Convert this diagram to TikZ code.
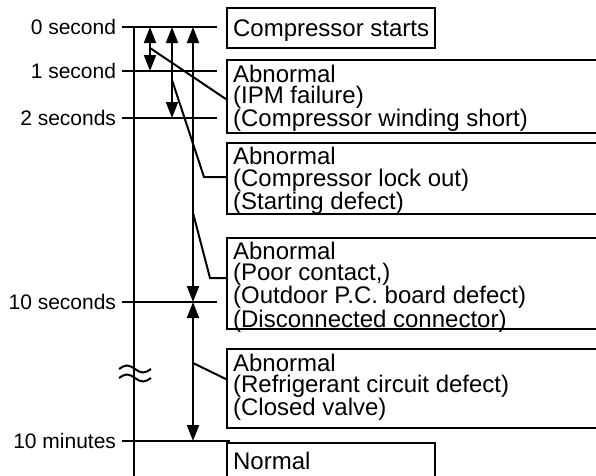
\documentclass[tikz,border=0pt]{standalone}
\usepackage{fontspec}
\setmainfont{Liberation Sans}
\usetikzlibrary{arrows.meta}
\newcommand{\boxlines}[4]{\parbox[c][#1][t]{#2}{\rule{0pt}{#3}#4}}
\begin{document}
\begin{tikzpicture}[x=1pt,y=-1pt,
  line width=2pt,
  tickline/.style={line width=2pt},
  dblarrow/.style={line width=2pt,{Triangle[length=16pt,width=12pt]}-{Triangle[length=16pt,width=12pt]}},
  lead/.style={line width=2pt},
  tlabel/.style={anchor=base east,inner sep=0pt,font=\fontsize{21}{21}\selectfont},
  abox/.style={draw,line width=2.2pt,anchor=north west,inner xsep=6pt,inner ysep=0pt,font=\fontsize{24}{21.5}\selectfont},
  brk/.style={line width=2pt}]
\useasboundingbox (0,0) rectangle (596,475);
\clip (0,0) rectangle (596,475);
\fill[white] (0,0) rectangle (596,475);

% time labels and tick lines
\node[tlabel] (l0) at (117,34.5) {0 second};
\node[tlabel] (l1) at (117,78.5) {1 second};
\node[tlabel] (l2) at (117,125.5) {2 seconds};
\node[tlabel] (l10s) at (117,309.5) {10 seconds};
\node[tlabel] (l10m) at (117,448) {10 minutes};
\draw[tickline] (122,27) -- (217,27);
\draw[tickline] (122,71) -- (217,71);
\draw[tickline] (122,118) -- (217,118);
\draw[tickline] (122,302) -- (217,302);
\draw[tickline] (122,441) -- (230,441);

% main axis
\draw[line width=2pt] (134,27) -- (134,480);

% break symbol
\draw[brk] (119,369) sin (127,365.5) cos (135,369) sin (143,372.5) cos (151,369);
\draw[brk] (119,378) sin (127,374.5) cos (135,378) sin (143,381.5) cos (151,378);

% arrows
\coordinate (a1s) at (150,27);  \coordinate (a1e) at (150,71);
\coordinate (a2s) at (172,27);  \coordinate (a2e) at (172,118);
\coordinate (a3s) at (193,27);  \coordinate (a3e) at (193,302);
\coordinate (a4s) at (193,302); \coordinate (a4e) at (193,441);
\draw[dblarrow] (a1s) -- (a1e);
\draw[dblarrow] (a2s) -- (a2e);
\draw[dblarrow] (a3s) -- (a3e);
\draw[dblarrow] (a4s) -- (a4e);

% boxes
\node[abox] (start) at (226,7) {\boxlines{40pt}{196pt}{28.5pt}{Compressor starts}};
\node[abox] (ipm) at (226,59) {\boxlines{73pt}{380pt}{22pt}{Abnormal\\(IPM failure)\\(Compressor winding short)}};
\node[abox] (lock) at (226,142) {\boxlines{71pt}{380pt}{21.5pt}{Abnormal\\(Compressor lock out)\\(Starting defect)}};
\node[abox] (poor) at (226,237) {\boxlines{91pt}{380pt}{21pt}{Abnormal\\(Poor contact,)\\(Outdoor P.C. board defect)\\(Disconnected connector)}};
\node[abox] (refr) at (226,348) {\boxlines{79pt}{380pt}{22pt}{Abnormal\\(Refrigerant circuit defect)\\(Closed valve)}};
\node[abox] (norm) at (226,442) {\boxlines{60pt}{196pt}{26pt}{Normal}};

% leader lines
\coordinate (p1) at (150,48);
\draw[lead] (p1) -- ([yshift=-2.5pt]ipm.west);
\coordinate (p2) at (172,80);
\coordinate (k2) at (204,177);
\draw[lead] (p2) -- (k2) -- (k2 -| lock.west);
\coordinate (p3) at (193,213);
\coordinate (k3) at (210,278);
\draw[lead] (p3) -- (k3) -- (k3 -| poor.west);
\coordinate (p4) at (193,363);
\draw[lead] (p4) -- ([yshift=9.5pt]refr.west);
\end{tikzpicture}
\end{document}
